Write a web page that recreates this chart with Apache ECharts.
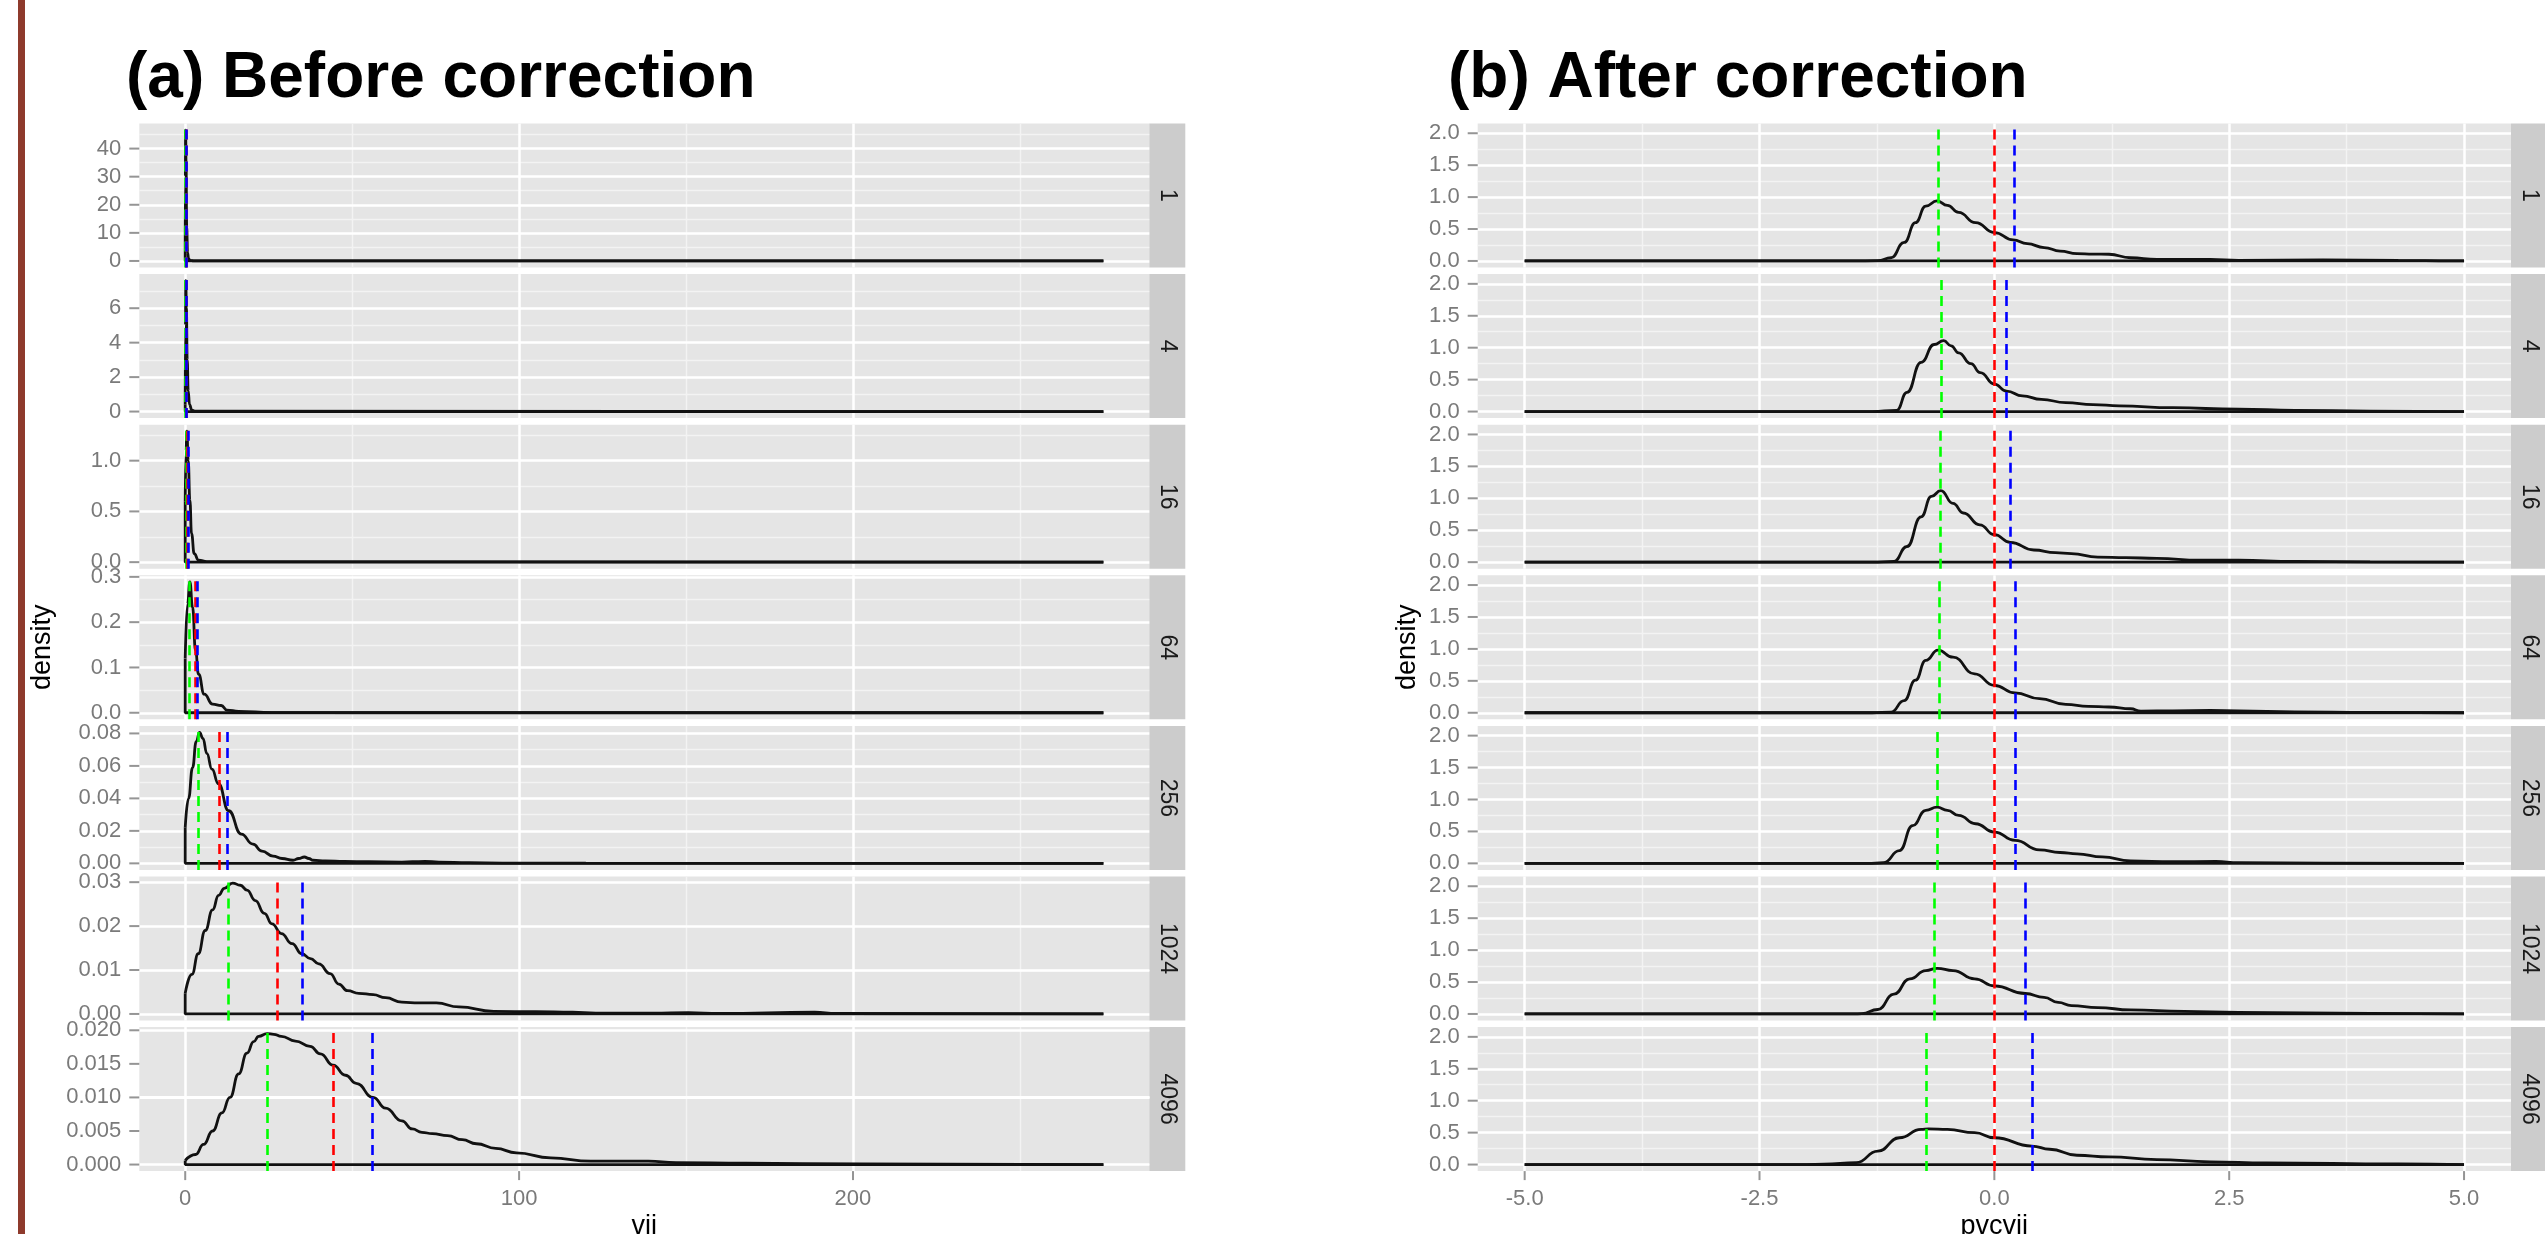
<!DOCTYPE html>
<html><head><meta charset="utf-8">
<script src="https://cdn.jsdelivr.net/npm/echarts@6/dist/echarts.min.js"></script>
<style>html,body{margin:0;padding:0;background:#fff}#c{width:2545px;height:1234px}</style>
</head><body><div id="c"></div>
<script>
// ---------------- DATA ----------------
const facets = ['1', '4', '16', '64', '256', '1024', '4096'];

// (a) Before correction : density of vii, one curve per facet  [x, density]
const viiDensity1 = [[0,4],[0.05,30],[0.12,46.6],[0.25,35],[0.45,12],[0.7,3],[1.0,0.8],[1.5,0.15],[2.5,0.03],[275,0]];
const viiDensity4 = [[0,0.4],[0.08,5],[0.18,7.6],[0.35,6],[0.6,3],[0.9,1.2],[1.3,0.4],[2,0.08],[3,0.02],[275,0]];
const viiDensity16 = [[0,0.6],[0.25,1.1],[0.5,1.29],[0.9,1.0],[1.4,0.61],[1.9,0.28],[2.7,0.083],[4,0.02],[6.5,0.005],[275,0]];
const viiDensity64 = [[0,0.12],[0.7,0.24],[1.4,0.289],[2.2,0.233],[3.1,0.137],[4,0.085],[5.7,0.041],[8.2,0.019],[10.8,0.016],[12.5,0.006],[16,0.003],[26,0.0005],[275,0]];
const viiDensity256 = [[0,0.022],[1,0.04],[2.2,0.059],[3.3,0.075],[4.3,0.0806],[5.3,0.077],[6.5,0.0676],[8,0.058],[9.96,0.049],[13,0.0324],[16.8,0.018],[20.3,0.0118],[23,0.0075],[26.3,0.0045],[29,0.003],[32.3,0.0019],[34,0.003],[35.7,0.0039],[37,0.003],[38.3,0.0019],[42,0.0015],[47.7,0.0012],[55,0.001],[64.9,0.0008],[68,0.001],[71.8,0.0012],[76,0.0008],[85,0.0004],[95,0.0002],[120,0.0001],[275,0]];
const viiDensity1024 = [[0,0.0047],[2,0.009],[3.9,0.0137],[6,0.019],[8.2,0.0237],[10,0.027],[11.7,0.0286],[14.2,0.0298],[16.5,0.0293],[18.5,0.0282],[21,0.0258],[23.7,0.0229],[26,0.0205],[28.8,0.0183],[32,0.016],[34.9,0.0137],[37.5,0.0126],[40,0.0114],[43.4,0.0092],[46,0.0068],[48.6,0.0053],[52,0.0047],[56.3,0.0044],[60,0.0037],[64.9,0.0027],[70,0.0025],[75.2,0.0025],[82,0.0016],[92.4,0.0006],[105,0.0005],[116,0.0004],[123,0.0002],[140,0.0002],[150.7,0.0003],[160,0.0001],[188.5,0.0004],[195,0.0001],[275,0]];
const viiDensity4096 = [[0,0.0006],[3.1,0.0015],[5.5,0.003],[8.2,0.005],[11,0.0077],[13.4,0.010],[16,0.0135],[18.5,0.0166],[20.5,0.0183],[22,0.0191],[24.5,0.0195],[26.5,0.0194],[28.8,0.0191],[33,0.0184],[37.4,0.0176],[40.5,0.0165],[44.3,0.0148],[48,0.0133],[51.2,0.0121],[56.3,0.010],[60,0.0084],[64.9,0.0065],[68,0.0053],[70.9,0.0048],[74,0.0046],[78.6,0.0043],[83,0.0037],[87.2,0.0031],[93,0.0024],[99.2,0.00175],[109.5,0.001],[121.5,0.0005],[138.7,0.0005],[147,0.0003],[168,0.0002],[202,0.0001],[275,0]];
const viiGreen = [0.1, 0.15, 0.2, 1.2, 4.0, 12.9, 24.5];
const viiRed   = [0.25, 0.3, 0.6, 3.1, 10.3, 27.7, 44.3];
const viiBlue  = [0.3, 0.35, 0.9, 3.6, 12.7, 35.2, 56.0];
const viiXLimits = [0, 275];
const viiXTicks = [0, 100, 200];
const viiYTicks = [[0,10,20,30,40],[0,2,4,6],[0,0.5,1.0],[0,0.1,0.2,0.3],[0,0.02,0.04,0.06,0.08],[0,0.01,0.02,0.03],[0,0.005,0.010,0.015,0.020]];

// (b) After correction : density of pvcvii
const pvDensity1 = [[-5,0],[-1.5,0],[-1.24,0.005],[-1.1,0.05],[-0.96,0.29],[-0.84,0.60],[-0.73,0.86],[-0.61,0.94],[-0.5,0.87],[-0.38,0.76],[-0.2,0.6],[0,0.445],[0.2,0.33],[0.35,0.27],[0.53,0.21],[0.7,0.155],[0.88,0.115],[1.05,0.108],[1.22,0.105],[1.45,0.05],[1.73,0.025],[2.3,0.025],[2.6,0.01],[3.5,0.015],[4.3,0.008],[4.88,0],[5,0]];
const pvDensity4 = [[-5,0],[-1.3,0],[-1.04,0.02],[-0.93,0.30],[-0.78,0.77],[-0.64,1.05],[-0.54,1.11],[-0.46,1.03],[-0.38,0.92],[-0.25,0.75],[-0.15,0.61],[0,0.43],[0.13,0.32],[0.3,0.245],[0.5,0.19],[0.76,0.14],[1.05,0.11],[1.33,0.088],[1.9,0.06],[2.6,0.036],[3.2,0.02],[4,0.008],[5,0]];
const pvDensity16 = [[-5,0],[-1.3,0],[-1.07,0.01],[-0.93,0.245],[-0.78,0.71],[-0.67,1.03],[-0.57,1.12],[-0.44,0.92],[-0.33,0.77],[-0.155,0.585],[0,0.43],[0.17,0.31],[0.42,0.19],[0.65,0.15],[0.82,0.135],[1.1,0.08],[1.4,0.07],[1.73,0.06],[2.19,0.03],[2.6,0.03],[3.2,0.01],[4,0.005],[5,0]];
const pvDensity64 = [[-5,0],[-1.3,0],[-1.1,0.01],[-0.96,0.19],[-0.84,0.51],[-0.73,0.82],[-0.6,0.98],[-0.44,0.87],[-0.21,0.61],[0,0.43],[0.22,0.31],[0.48,0.22],[0.76,0.13],[1.0,0.1],[1.22,0.09],[1.45,0.063],[1.56,0.025],[1.9,0.03],[2.3,0.035],[2.6,0.03],[3.2,0.015],[4,0.005],[5,0]];
const pvDensity256 = [[-5,0],[-1.35,0],[-1.18,0.01],[-1.01,0.2],[-0.87,0.59],[-0.73,0.83],[-0.61,0.88],[-0.5,0.83],[-0.38,0.75],[-0.2,0.62],[0,0.49],[0.22,0.36],[0.48,0.21],[0.7,0.17],[0.88,0.15],[1.15,0.1],[1.45,0.04],[1.9,0.025],[2.36,0.03],[2.6,0.01],[3.5,0.005],[5,0]];
const pvDensity1024 = [[-5,0],[-1.5,0],[-1.41,0.005],[-1.24,0.07],[-1.07,0.31],[-0.9,0.55],[-0.73,0.68],[-0.61,0.715],[-0.44,0.68],[-0.21,0.55],[0,0.44],[0.33,0.32],[0.53,0.26],[0.68,0.18],[0.82,0.13],[1.1,0.10],[1.45,0.063],[2.02,0.04],[2.6,0.025],[4.0,0.01],[5,0]];
const pvDensity4096 = [[-5,0],[-2.0,0],[-1.81,0.005],[-1.47,0.03],[-1.24,0.21],[-1.01,0.42],[-0.78,0.55],[-0.7,0.56],[-0.5,0.55],[-0.21,0.50],[0,0.42],[0.4,0.29],[0.59,0.24],[0.88,0.146],[1.22,0.12],[1.73,0.078],[2.3,0.042],[2.9,0.026],[4.3,0.01],[5,0]];
const pvGreen = [-0.60, -0.56, -0.58, -0.59, -0.61, -0.64, -0.72];
const pvRed   = [0, 0, 0, 0, 0, 0, 0];
const pvBlue  = [0.21, 0.13, 0.17, 0.22, 0.22, 0.33, 0.40];
const pvXLimits = [-5, 5];
const pvYLimits = [0, 2.05];
const pvXTicks = [-5.0, -2.5, 0.0, 2.5, 5.0];
const pvYTicks = [0, 0.5, 1.0, 1.5, 2.0];

const titles = ['(a) Before correction', '(b) After correction'];
const xTitles = ['vii', 'pvcvii'];
const yTitle = 'density';

// ---------------- LAYOUT ----------------
const FONT = 'Liberation Sans, Arial, Helvetica, sans-serif';
const panelTop0 = 123.5, panelStep = 150.6, panelH = 144, stripW = 36;
const sides = [
  { left: 139.3, right: 1149.3, titleX: 126, yTitleX: 43, xDec: 0,
    curves: [viiDensity1, viiDensity4, viiDensity16, viiDensity64, viiDensity256, viiDensity1024, viiDensity4096],
    green: viiGreen, red: viiRed, blue: viiBlue, xLim: viiXLimits, xTicks: viiXTicks,
    yTicks: i => viiYTicks[i], yLim: c => [0, Math.max(...c.map(p => p[1]))] },
  { left: 1477.7, right: 2511, titleX: 1448, yTitleX: 1408, xDec: 1,
    curves: [pvDensity1, pvDensity4, pvDensity16, pvDensity64, pvDensity256, pvDensity1024, pvDensity4096],
    green: pvGreen, red: pvRed, blue: pvBlue, xLim: pvXLimits, xTicks: pvXTicks,
    yTicks: () => pvYTicks, yLim: () => pvYLimits }
];

function expand(l) { const d = (l[1] - l[0]) * 0.05; return [l[0] - d, l[1] + d]; }
function decs(ticks) { return Math.max(...ticks.map(t => { const s = String(t); const k = s.indexOf('.'); return k < 0 ? 0 : s.length - k - 1; })); }
function minors(ticks, r) {
  const st = ticks[1] - ticks[0], out = [];
  for (let k = -1; k < ticks.length; k++) { const v = ticks[0] + (k + 0.5) * st; if (v > r[0] && v < r[1]) out.push(v); }
  return out;
}

const grids = [], xAxes = [], yAxes = [], series = [], graphic = [];
const axisGray = '#7a7a7a';
const labelStyle = { color: axisGray, fontSize: 22, fontFamily: FONT };

sides.forEach((s, si) => {
  const xr = expand(s.xLim);
  for (let i = 0; i < facets.length; i++) {
    const gi = si * 7 + i;
    const top = panelTop0 + i * panelStep;
    const bottom = i === facets.length - 1;
    const curve = s.curves[i];
    const yr = expand(s.yLim(curve));
    const yt = s.yTicks(i).filter(v => v >= yr[0] && v <= yr[1]);
    const yDec = decs(s.yTicks(i));
    grids.push({ left: s.left, top: top, width: s.right - s.left, height: panelH,
      show: true, backgroundColor: '#e5e5e5', borderWidth: 0 });
    xAxes.push({ gridIndex: gi, type: 'value', min: xr[0], max: xr[1],
      axisLine: { show: false }, splitLine: { show: false }, axisTick: { show: false },
      axisLabel: Object.assign({ show: bottom, customValues: s.xTicks, margin: 17,
        formatter: v => Number(v).toFixed(s.xDec) }, labelStyle) });
    yAxes.push({ gridIndex: gi, type: 'value', min: yr[0], max: yr[1],
      axisLine: { show: false }, splitLine: { show: false }, axisTick: { show: false },
      axisLabel: Object.assign({ show: true, customValues: yt, margin: 18,
        formatter: v => Number(v).toFixed(yDec) }, labelStyle) });

    // grid lines (white) as markLines
    const gl = [];
    minors(s.xTicks, xr).forEach(v => gl.push({ xAxis: v, lineStyle: { color: '#f3f3f3', width: 1.3, type: 'solid' } }));
    minors(yt, yr).forEach(v => gl.push({ yAxis: v, lineStyle: { color: '#f3f3f3', width: 1.3, type: 'solid' } }));
    s.xTicks.filter(v => v > xr[0] && v < xr[1]).forEach(v => gl.push({ xAxis: v, lineStyle: { color: '#ffffff', width: 2.5, type: 'solid' } }));
    yt.filter(v => v > yr[0] && v < yr[1]).forEach(v => gl.push({ yAxis: v, lineStyle: { color: '#ffffff', width: 2.5, type: 'solid' } }));

    const first = curve[0], last = curve[curve.length - 1];
    // baseline + closing edge of the density polygon
    series.push({ type: 'line', xAxisIndex: gi, yAxisIndex: gi, z: 3, symbol: 'none', silent: true,
      data: [[first[0], first[1]], [first[0], 0], [last[0], 0]],
      lineStyle: { color: '#111', width: 2.8 },
      markLine: { silent: true, symbol: 'none', z: 1, label: { show: false }, animation: false, data: gl } });
    // density curve + reference lines
    const dash = [10, 6];
    series.push({ type: 'line', xAxisIndex: gi, yAxisIndex: gi, z: 3, symbol: 'none', silent: true,
      smooth: 0.5, smoothMonotone: 'x', data: curve,
      lineStyle: { color: '#111', width: 2.8 },
      markLine: { silent: true, symbol: 'none', z: 5, label: { show: false }, animation: false,
        data: [
          { xAxis: s.green[i], lineStyle: { color: '#00ff00', width: 2.6, type: dash } },
          { xAxis: s.red[i], lineStyle: { color: '#ff0000', width: 2.6, type: dash } },
          { xAxis: s.blue[i], lineStyle: { color: '#0000ff', width: 2.6, type: dash } }
        ] } });
    // y-axis tick marks (outside, left of the panel)
    series.push({ type: 'scatter', xAxisIndex: gi, yAxisIndex: gi, z: 2, silent: true, clip: false,
      data: yt.map(v => [xr[0], v]), symbol: 'rect', symbolSize: [10, 2], symbolOffset: [-5, 0],
      itemStyle: { color: axisGray } });
    if (bottom) {
      series.push({ type: 'scatter', xAxisIndex: gi, yAxisIndex: gi, z: 2, silent: true, clip: false,
        data: s.xTicks.map(v => [v, yr[0]]), symbol: 'rect', symbolSize: [2, 9], symbolOffset: [0, 4.5],
        itemStyle: { color: axisGray } });
    }

    // facet strip
    graphic.push({ type: 'rect', shape: { x: s.right, y: top, width: stripW, height: panelH }, style: { fill: '#cccccc' }, silent: true });
    graphic.push({ type: 'text', x: s.right + stripW / 2, y: top + panelH / 2, rotation: -Math.PI / 2, silent: true,
      style: { text: facets[i], fill: '#1a1a1a', font: '23px ' + FONT, align: 'center', verticalAlign: 'middle' } });
  }
  // titles
  graphic.push({ type: 'text', x: s.titleX, y: 79, silent: true,
    style: { text: titles[si], fill: '#000', font: 'bold 64px ' + FONT, align: 'left', verticalAlign: 'middle' } });
  graphic.push({ type: 'text', x: s.yTitleX, y: panelTop0 + (6 * panelStep + panelH) / 2, rotation: Math.PI / 2, silent: true,
    style: { text: yTitle, fill: '#000', font: '27px ' + FONT, align: 'center', verticalAlign: 'middle' } });
  graphic.push({ type: 'text', x: (s.left + s.right) / 2, y: 1227, silent: true,
    style: { text: xTitles[si], fill: '#000', font: '27px ' + FONT, align: 'center', verticalAlign: 'middle' } });
});

// left decorative border bar
graphic.push({ type: 'rect', shape: { x: 18, y: 0, width: 7, height: 1234 }, style: { fill: '#8e3a2c' }, silent: true });

const chart = echarts.init(document.getElementById('c'), null, { renderer: 'canvas' });
chart.setOption({
  animation: false,
  backgroundColor: '#ffffff',
  grid: grids, xAxis: xAxes, yAxis: yAxes, series: series, graphic: graphic
});
</script></body></html>
